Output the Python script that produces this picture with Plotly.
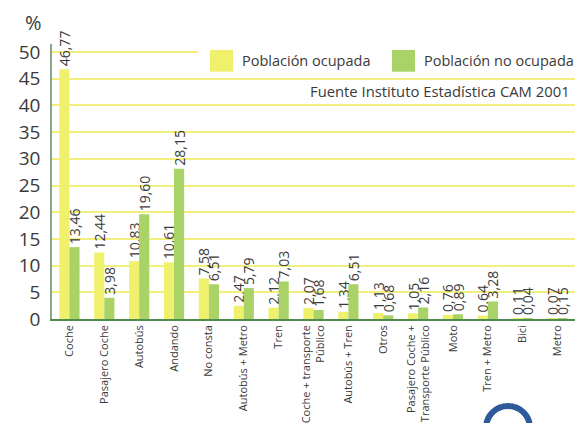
import plotly.graph_objects as go

categories = ["Coche", "Pasajero Coche", "Autobús", "Andando", "No consta",
              "Autobús + Metro", "Tren", "Coche + transporte<br>Público",
              "Autobús + Tren", "Otros", "Pasajero Coche +<br>Transporte Público",
              "Moto", "Tren + Metro", "Bici", "Metro"]
ocupada = [46.77, 12.44, 10.83, 10.61, 7.58, 2.47, 2.12, 2.07, 1.34, 1.13, 1.05, 0.76, 0.64, 0.11, 0.07]
no_ocupada = [13.46, 3.98, 19.60, 28.15, 6.51, 5.79, 7.03, 1.68, 6.51, 0.68, 2.16, 0.89, 3.28, 0.04, 0.15]
y_ticks = [0, 5, 10, 15, 20, 25, 30, 35, 40, 45, 50]

YELLOW = "#eff06c"
GREEN = "#a9d267"
TXT = "#3a3a3a"
FONT = "Open Sans"

def fmt(v):
    return f"{v:.2f}".replace(".", ",")

fig = go.Figure()
for name, vals, col in [("Población ocupada", ocupada, YELLOW),
                        ("Población no ocupada", no_ocupada, GREEN)]:
    fig.add_trace(go.Bar(
        x=categories, y=vals, name=name, marker_color=col, marker_line_width=0,
        text=[fmt(v) for v in vals], textposition="outside", textangle=-90,
        textfont=dict(size=14, color=TXT, family=FONT), cliponaxis=False,
        constraintext="none", showlegend=False))

fig.update_layout(
    width=575, height=423, barmode="group", bargap=0.42, bargroupgap=0,
    margin=dict(l=52, r=0, t=44, b=101),
    paper_bgcolor="white", plot_bgcolor="white",
    font=dict(family=FONT, color=TXT),
    xaxis=dict(tickangle=-90, tickfont=dict(size=11, color=TXT), showline=True,
               linecolor="#4f8a4f", linewidth=1.5, ticks="", showgrid=False),
    yaxis=dict(range=[0, 51.5], tickvals=y_ticks, tickfont=dict(size=19, color=TXT),
               showgrid=True, gridcolor="#f2f07a", gridwidth=1.5, showline=True,
               linecolor="#8aa68a", linewidth=1.5, zeroline=False, ticks="",
               ticklabelstandoff=6),
)

def px(x):
    return (x - 52) / 523

def py(y):
    return (322 - y) / 278

shapes = [
    dict(type="rect", xref="paper", yref="paper", x0=px(198), x1=1.0, y0=py(75), y1=py(46),
         fillcolor="white", line_width=0, layer="above"),
    dict(type="rect", xref="paper", yref="paper", x0=px(210), x1=px(233), y0=py(72), y1=py(50),
         fillcolor=YELLOW, line_width=0, layer="above"),
    dict(type="rect", xref="paper", yref="paper", x0=px(392), x1=px(415), y0=py(72), y1=py(50),
         fillcolor=GREEN, line_width=0, layer="above"),
    dict(type="circle", xref="paper", yref="paper", x0=px(486), x1=px(530), y0=py(454), y1=py(410),
         line=dict(color="#2d5b9a", width=6), layer="above"),
]
fig.update_layout(shapes=shapes)

annotations = [
    dict(text="Población ocupada", x=px(240), y=py(61), xanchor="left", yanchor="middle",
         font=dict(size=14.5, color=TXT)),
    dict(text="Población no ocupada", x=px(422), y=py(61), xanchor="left", yanchor="middle",
         font=dict(size=14.5, color=TXT)),
    dict(text="Fuente Instituto Estadística CAM 2001", x=px(572), y=py(92), xanchor="right",
         yanchor="middle", font=dict(size=14.8, color=TXT)),
    dict(text="%", x=px(33), y=py(22), xanchor="center", yanchor="middle",
         font=dict(size=20, color=TXT)),
]
for a in annotations:
    a.update(xref="paper", yref="paper", showarrow=False)
fig.update_layout(annotations=annotations)

fig.write_html("out.html", config={"displayModeBar": False},
               post_script="document.body.style.margin='0px';document.body.style.overflow='hidden';")
